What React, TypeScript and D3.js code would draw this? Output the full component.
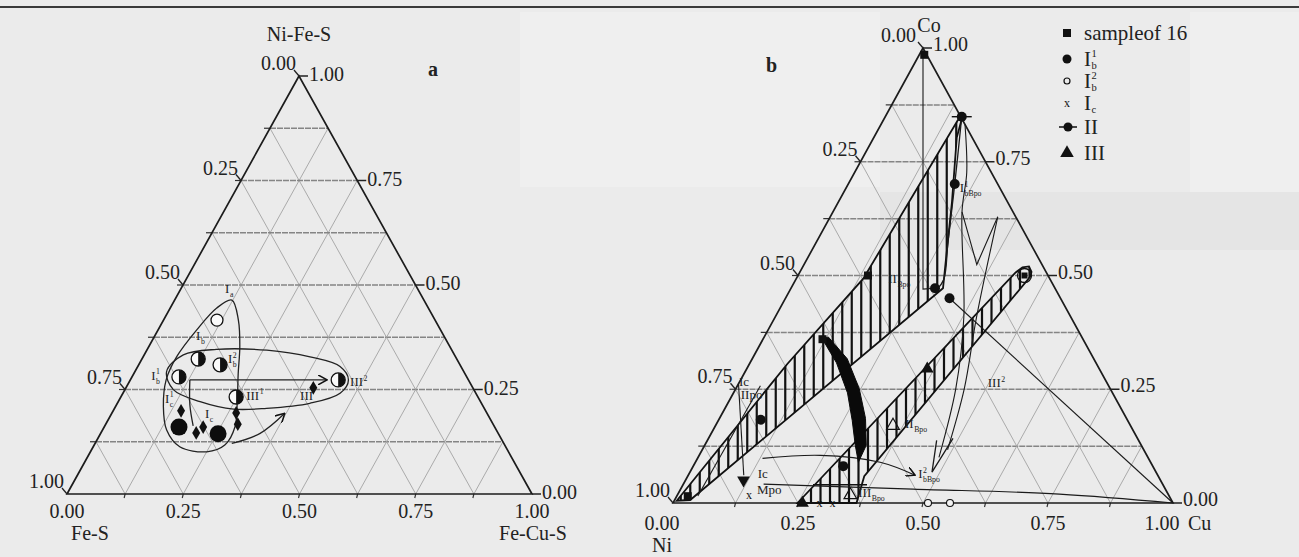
import React, { useEffect, useRef } from 'react';
import * as d3 from 'd3';

// every point is [top, right] as fractions of the triangle; left = 1 - top - right
type TP = [number, number];

const W = 1299, H = 557;

const gridSteps = d3.range(1, 8).map(k => k / 8);
const tickValues = [0, 0.25, 0.5, 0.75, 1];

// ---------- panel a (Ni-Fe-S top, Fe-S left, Fe-Cu-S right)
const aHalfDots: TP[] = [[0.323, 0.121], [0.309, 0.175], [0.280, 0.101], [0.232, 0.248], [0.273, 0.447]];
const aOpenDots: TP[] = [[0.416, 0.115]];
const aBigDots: TP[] = [[0.160, 0.161], [0.144, 0.253]];
const aDiamonds: TP[] = [[0.199, 0.146], [0.146, 0.205], [0.160, 0.213], [0.194, 0.267], [0.167, 0.284], [0.254, 0.403]];
const aLoopI: TP[] = [[0.464, 0.123], [0.416, 0.161], [0.352, 0.196], [0.289, 0.224], [0.225, 0.254], [0.161, 0.281],
  [0.117, 0.281], [0.101, 0.250], [0.113, 0.186], [0.153, 0.138], [0.209, 0.103], [0.273, 0.077], [0.328, 0.072],
  [0.392, 0.083], [0.445, 0.100]];
const aLoopIII: TP[] = [[0.293, 0.068], [0.333, 0.084], [0.346, 0.149], [0.344, 0.258], [0.328, 0.359], [0.305, 0.435],
  [0.273, 0.469], [0.241, 0.467], [0.217, 0.414], [0.205, 0.327], [0.203, 0.257], [0.221, 0.176], [0.249, 0.105]];
const aArrowRow: TP[] = [[0.273, 0.128], [0.273, 0.423]];
const aArrowDown: TP[] = [[0.273, 0.128], [0.213, 0.158], [0.163, 0.190]];
const aArrowCurve: TP[] = [[0.121, 0.294], [0.145, 0.343], [0.193, 0.372]];
const aLabels = [
  { main: 'I', sub: 'a', sup: '', at: [0.481, 0.100] as TP },
  { main: 'I', sub: 'b', sup: '', at: [0.368, 0.094] as TP },
  { main: 'I', sub: 'b', sup: '2', at: [0.313, 0.190] as TP },
  { main: 'I', sub: 'b', sup: '1', at: [0.273, 0.045] as TP },
  { main: 'I', sub: 'c', sup: '1', at: [0.218, 0.102] as TP },
  { main: 'I', sub: 'c', sup: '', at: [0.182, 0.206] as TP },
  { main: 'III', sub: '', sup: '1', at: [0.225, 0.273] as TP },
  { main: 'III', sub: '', sup: '', at: [0.225, 0.389] as TP },
  { main: 'III', sub: '', sup: '2', at: [0.258, 0.480] as TP },
];

// ---------- panel b (Co top, Ni left, Cu right)
const bSquares: TP[] = [[0.985, 0.01], [0.5, 0.14], [0.36, 0.119], [0.015, 0.022]];
const bDots: TP[] = [[0.701, 0.213], [0.472, 0.288], [0.45, 0.328], [0.081, 0.300], [0.183, 0.084]];
const bCrossDots: TP[] = [[0.849, 0.153]];
const bRingSquares: TP[] = [[0.5, 0.453]];
const bTriangles: TP[] = [[0.295, 0.361], [0.0, 0.259]];
const bDownTriangles: TP[] = [[0.05, 0.116]];
const bOpenTriangles: TP[] = [[0.17, 0.355], [0.0175, 0.346]];
const bOpenDots: TP[] = [[0.0, 0.51], [0.0, 0.554]];
const bCrosses: TP[] = [[0.0, 0.293], [0.0, 0.319], [0.0175, 0.143]];
const bUpperBand: TP[] = [[0.005, 0.005], [0.306, 0.076], [0.493, 0.134], [0.841, 0.149], [0.854, 0.153],
  [0.803, 0.166], [0.662, 0.227], [0.531, 0.280], [0.472, 0.304], [0.0066, 0.031]];
const bLowerBand: TP[] = [[0.0, 0.249], [0.5066, 0.432], [0.518, 0.440], [0.520, 0.452], [0.508, 0.463],
  [0.498, 0.466], [0.059, 0.353], [0.0, 0.367]];
const bBigArrow: TP[] = [[0.360, 0.119], [0.308, 0.173], [0.242, 0.228], [0.181, 0.268], [0.127, 0.301],
  [0.0895, 0.326], [0.127, 0.323], [0.186, 0.292], [0.251, 0.247], [0.317, 0.190], [0.365, 0.128]];
const bCoLine: TP[] = [[1.0, 0.0], [0.47, 0.265], [0.472, 0.288]];
const bTopCurve: TP[] = [[0.849, 0.153], [0.701, 0.213], [0.574, 0.263], [0.491, 0.296], [0.469, 0.293]];
const bLeftShaft: TP[] = [[0.832, 0.168], [0.727, 0.224], [0.64, 0.258], [0.4083, 0.3775], [0.251, 0.44], [0.1004, 0.4817]];
const bRightShaft: TP[] = [[0.629, 0.335], [0.408, 0.403], [0.251, 0.457], [0.117, 0.4906]];
const bZig: TP[] = [[0.64, 0.258], [0.524, 0.3456], [0.629, 0.335]];
const bShaftHead: TP[] = [[0.1376, 0.4585], [0.068, 0.484], [0.142, 0.489]];
const bCuLine: TP[] = [[0.0, 1.0], [0.45, 0.328]];
const bBottomLine: TP[] = [[0.0415, 0.1605], [0.0306, 0.4648], [0.0197, 0.763], [0.0, 1.0]];
const bBackArrow: TP[] = [[0.0611, 0.4536], [0.0895, 0.3695], [0.1048, 0.2424], [0.098, 0.130]];
const bIcLine: TP[] = [[0.262, 0.0], [0.061, 0.111]];
const bIIpoLine: TP[] = [[0.2576, 0.046], [0.0153, 0.042]];
const bLabels = [
  { main: 'I', sub: 'bBpo', sup: '1', at: [0.683, 0.232] as TP },
  { main: 'II', sub: 'Bpo', sup: '', at: [0.483, 0.189] as TP },
  { main: 'III', sub: '', sup: '2', at: [0.255, 0.502] as TP },
  { main: 'II', sub: 'Bpo', sup: '', at: [0.164, 0.382] as TP },
  { main: 'I', sub: 'bBpo', sup: '2', at: [0.0546, 0.463] as TP },
  { main: 'III', sub: 'Bpo', sup: '', at: [0.013, 0.364] as TP },
  { main: 'Ic', sub: '', sup: '', at: [0.258, 0.003] as TP },
  { main: 'IIpo', sub: '', sup: '', at: [0.229, 0.021] as TP },
  { main: 'Ic', sub: '', sup: '', at: [0.0546, 0.142] as TP },
  { main: 'Mpo', sub: '', sup: '', at: [0.0197, 0.158] as TP },
];

const legendNames = ['sampleof 16', 'I', 'I', 'I', 'II', 'III'];
const legendSub = ['', 'b', 'b', 'c', '', ''];
const legendSup = ['', '1', '2', '', '', ''];

function makeProj(top: number[], bl: number[], br: number[]) {
  const y = d3.scaleLinear().domain([0, 1]).range([bl[1], top[1]]);
  const xt = d3.scaleLinear().domain([0, 1]).range([bl[0], top[0]]);
  const xr = d3.scaleLinear().domain([0, 1]).range([0, br[0] - bl[0]]);
  return (p: TP): [number, number] => [xt(p[0]) + xr(p[1]), y(p[0])];
}

function label(g: any, x: number, y: number, main: string, sub: string, sup: string, size: number, small = 0.6, subDy = 0.28) {
  const t = g.append('text').attr('x', x).attr('y', y).attr('font-size', size).attr('fill', '#222').text(main);
  const w = (t.node() as SVGTextElement).getComputedTextLength();
  if (sup) g.append('text').attr('x', x + w + 0.5).attr('y', y - size * 0.42).attr('font-size', size * small).attr('fill', '#222').text(sup);
  if (sub) g.append('text').attr('x', x + w + 0.5).attr('y', y + size * subDy).attr('font-size', size * small).attr('fill', '#222').text(sub);
}

function drawFrame(g: any, proj: (p: TP) => [number, number], bottomDy: number, endShift: number, topShift: number, rightDy: number) {
  const seg = (a: TP, b: TP) => {
    const p = proj(a), q = proj(b);
    return `M${p[0]},${p[1]}L${q[0]},${q[1]}`;
  };
  gridSteps.forEach(k => {
    g.append('path').attr('d', seg([0, k], [1 - k, k])).attr('stroke', '#a3a3a3').attr('stroke-width', 0.9).attr('fill', 'none');
    g.append('path').attr('d', seg([0, 1 - k], [1 - k, 0])).attr('stroke', '#a3a3a3').attr('stroke-width', 0.9).attr('fill', 'none');
    g.append('path').attr('d', seg([k, 0], [k, 1 - k])).attr('stroke', '#858585').attr('stroke-width', 1.5)
      .attr('stroke-dasharray', '6,1').attr('fill', 'none');
    const l = proj([k, 0]);
    g.append('line').attr('x1', l[0] - 6).attr('x2', l[0]).attr('y1', l[1]).attr('y2', l[1]).attr('stroke', '#333').attr('stroke-width', 1.2);
    const b = proj([0, k]);
    g.append('line').attr('x1', b[0]).attr('x2', b[0] - 1).attr('y1', b[1]).attr('y2', b[1] + 4).attr('stroke', '#333').attr('stroke-width', 1.2);
  });
  const tri = [proj([1, 0]), proj([0, 0]), proj([0, 1])];
  g.append('path').attr('d', 'M' + tri.map(p => p.join(',')).join('L') + 'Z')
    .attr('fill', 'none').attr('stroke', '#1c1c1c').attr('stroke-width', 1.7);

  tickValues.forEach((v, i) => {
    const l = proj([v, 0]);
    g.append('line').attr('x1', l[0]).attr('y1', l[1]).attr('x2', l[0] - 5).attr('y2', l[1] - 6).attr('stroke', '#222').attr('stroke-width', 1.3);
    g.append('text').attr('x', l[0] - 3 + (v === 1 ? topShift : 0)).attr('y', l[1] - 6).attr('text-anchor', 'end').attr('font-size', 20).attr('fill', '#222')
      .text((1 - v).toFixed(2));
    const r = proj([v, 1 - v]);
    g.append('line').attr('x1', r[0]).attr('y1', r[1]).attr('x2', r[0] + 9).attr('y2', r[1]).attr('stroke', '#222').attr('stroke-width', 1.5);
    g.append('text').attr('x', r[0] + 10).attr('y', r[1] + rightDy).attr('font-size', 20).attr('fill', '#222').text(v.toFixed(2));
    const b = proj([0, v]);
    const shift = i === 0 || i === tickValues.length - 1 ? endShift : 0;
    g.append('text').attr('x', b[0] + shift).attr('y', b[1] + bottomDy).attr('text-anchor', 'middle').attr('font-size', 20).attr('fill', '#222')
      .text(v.toFixed(2));
  });
}

function halfDot(g: any, p: [number, number], r: number) {
  g.append('circle').attr('cx', p[0]).attr('cy', p[1]).attr('r', r).attr('fill', '#fafafa').attr('stroke', '#111').attr('stroke-width', 1.3);
  g.append('path').attr('d', `M${p[0]},${p[1] - r}A${r},${r} 0 0 1 ${p[0]},${p[1] + r}Z`).attr('fill', '#111');
}

function hatch(g: any, id: string, pts: [number, number][], step: number) {
  const xs = pts.map(p => p[0]);
  const poly = 'M' + pts.map(p => p.join(',')).join('L') + 'Z';
  g.append('clipPath').attr('id', id).append('path').attr('d', poly);
  const hg = g.append('g').attr('clip-path', `url(#${id})`);
  const ys = pts.map(p => p[1]);
  const y0 = d3.min(ys) as number, y1 = d3.max(ys) as number;
  d3.range(d3.min(xs) as number + 4, d3.max(xs) as number, step).forEach(x => {
    hg.append('line').attr('x1', x).attr('x2', x).attr('y1', y0).attr('y2', y1).attr('stroke', '#111').attr('stroke-width', 2.2);
  });
  g.append('path').attr('d', poly).attr('fill', 'none').attr('stroke', '#111').attr('stroke-width', 1.8);
}

export default function App() {
  const ref = useRef<SVGSVGElement>(null);

  useEffect(() => {
    const svg = d3.select(ref.current);
    svg.selectAll('*').remove();

    const defs = svg.append('defs');
    defs.append('marker').attr('id', 'arr').attr('viewBox', '0 0 10 10').attr('refX', 9).attr('refY', 5)
      .attr('markerWidth', 10).attr('markerHeight', 10).attr('markerUnits', 'userSpaceOnUse').attr('orient', 'auto-start-reverse')
      .append('path').attr('d', 'M0,0L9,5L0,10').attr('fill', 'none').attr('stroke', '#111').attr('stroke-width', 1.5);

    // paper
    svg.append('rect').attr('width', W).attr('height', H).attr('fill', '#ebebeb');
    svg.append('rect').attr('x', 520).attr('y', 12).attr('width', 360).attr('height', 175).attr('fill', '#efefef');
    svg.append('rect').attr('x', 1190).attr('y', 12).attr('width', 109).attr('height', 200).attr('fill', '#efefef');
    svg.append('rect').attr('x', 880).attr('y', 192).attr('width', 419).attr('height', 58).attr('fill', '#e5e5e5');
    svg.append('line').attr('x1', 0).attr('x2', W).attr('y1', 7).attr('y2', 7).attr('stroke', '#3a3a3a').attr('stroke-width', 2);

    const root = svg.append('g').attr('font-family', '"Liberation Serif", "DejaVu Serif", serif');

    // ================= panel a
    const pa = makeProj([299, 76], [67, 494], [532, 494]);
    const ga = root.append('g');
    drawFrame(ga, pa, 24, 0, 0, 5);
    ga.append('text').attr('x', 299).attr('y', 41).attr('text-anchor', 'middle').attr('font-size', 20).attr('fill', '#222').text('Ni-Fe-S');
    ga.append('text').attr('x', 90).attr('y', 540).attr('text-anchor', 'middle').attr('font-size', 20).attr('fill', '#222').text('Fe-S');
    ga.append('text').attr('x', 533).attr('y', 540).attr('text-anchor', 'middle').attr('font-size', 20).attr('fill', '#222').text('Fe-Cu-S');
    ga.append('text').attr('x', 428).attr('y', 76).attr('font-size', 20).attr('font-weight', 'bold').attr('fill', '#222').text('a');

    const lineA = d3.line<TP>().x(d => pa(d)[0]).y(d => pa(d)[1]);
    ga.append('path').attr('d', lineA.curve(d3.curveCatmullRomClosed)(aLoopI)).attr('fill', 'none').attr('stroke', '#222').attr('stroke-width', 1.3);
    ga.append('path').attr('d', lineA.curve(d3.curveCatmullRomClosed)(aLoopIII)).attr('fill', 'none').attr('stroke', '#222').attr('stroke-width', 1.3);
    ga.append('path').attr('d', lineA.curve(d3.curveLinear)(aArrowRow)).attr('fill', 'none').attr('stroke', '#222').attr('stroke-width', 1.4).attr('marker-end', 'url(#arr)');
    ga.append('path').attr('d', lineA.curve(d3.curveCatmullRom)(aArrowDown)).attr('fill', 'none').attr('stroke', '#222').attr('stroke-width', 1.3);
    ga.append('path').attr('d', lineA.curve(d3.curveCatmullRom)(aArrowCurve)).attr('fill', 'none').attr('stroke', '#222').attr('stroke-width', 1.3).attr('marker-end', 'url(#arr)');

    aOpenDots.forEach(d => {
      const p = pa(d);
      ga.append('circle').attr('cx', p[0]).attr('cy', p[1]).attr('r', 6).attr('fill', '#fafafa').attr('stroke', '#111').attr('stroke-width', 1.3);
    });
    aHalfDots.forEach(d => halfDot(ga, pa(d), 7));
    aBigDots.forEach(d => {
      const p = pa(d);
      ga.append('circle').attr('cx', p[0]).attr('cy', p[1]).attr('r', 8.5).attr('fill', '#0d0d0d');
    });
    const diamond = d3.symbol().type(d3.symbolDiamond).size(55);
    aDiamonds.forEach(d => {
      const p = pa(d);
      ga.append('path').attr('d', diamond()).attr('transform', `translate(${p[0]},${p[1]})`).attr('fill', '#111');
    });
    aLabels.forEach(l => {
      const p = pa(l.at);
      label(ga, p[0], p[1], l.main, l.sub, l.sup, 13);
    });

    // ================= panel b
    const pb = makeProj([923, 48], [673, 503], [1173, 503]);
    const gb = root.append('g');
    drawFrame(gb, pb, 27, -11, -4, 3);
    gb.append('text').attr('x', 929).attr('y', 32).attr('text-anchor', 'middle').attr('font-size', 20).attr('fill', '#222').text('Co');
    gb.append('text').attr('x', 662).attr('y', 552).attr('text-anchor', 'middle').attr('font-size', 20).attr('fill', '#222').text('Ni');
    gb.append('text').attr('x', 1188).attr('y', 530).attr('font-size', 20).attr('fill', '#222').text('Cu');
    gb.append('text').attr('x', 766).attr('y', 72).attr('font-size', 20).attr('font-weight', 'bold').attr('fill', '#222').text('b');

    hatch(gb, 'bandUp', bUpperBand.map(pb), 9.5);
    hatch(gb, 'bandLow', bLowerBand.map(pb), 9.5);
    const lo = pb([0.04, 0.26]), lo2 = pb([0.04, 0.36]);
    gb.append('line').attr('x1', lo[0]).attr('x2', lo2[0] + 4).attr('y1', lo[1]).attr('y2', lo[1]).attr('stroke', '#111').attr('stroke-width', 1.5);

    const lineB = d3.line<TP>().x(d => pb(d)[0]).y(d => pb(d)[1]);
    const thin = (pts: TP[], curve: any, w: number, end?: boolean, start?: boolean) => {
      const path = gb.append('path').attr('d', lineB.curve(curve)(pts)).attr('fill', 'none').attr('stroke', '#1a1a1a').attr('stroke-width', w);
      if (end) path.attr('marker-end', 'url(#arr)');
      if (start) path.attr('marker-start', 'url(#arr)');
    };
    thin(bCoLine, d3.curveLinear, 1.1);
    thin(bTopCurve, d3.curveCatmullRom, 1.3);
    thin(bLeftShaft, d3.curveCatmullRom, 1.1);
    thin(bRightShaft, d3.curveCatmullRom, 1.1);
    thin(bZig, d3.curveLinear, 1.1);
    thin(bShaftHead, d3.curveLinear, 1.3);
    thin(bCuLine, d3.curveLinear, 1.1);
    thin(bBottomLine, d3.curveCatmullRom, 1.2);
    thin(bBackArrow, d3.curveCatmullRom, 1.2, false, true);
    thin(bIcLine, d3.curveLinear, 1.1);
    thin(bIIpoLine, d3.curveLinear, 1.1);

    gb.append('path').attr('d', lineB.curve(d3.curveLinearClosed)(bBigArrow)).attr('fill', '#0a0a0a').attr('stroke', '#0a0a0a').attr('stroke-width', 1);

    const sq = d3.symbol().type(d3.symbolSquare).size(64);
    const triUp = d3.symbol().type(d3.symbolTriangle).size(70);
    bSquares.forEach(d => {
      const p = pb(d);
      gb.append('path').attr('d', sq()).attr('transform', `translate(${p[0]},${p[1]})`).attr('fill', '#111');
    });
    bDots.forEach(d => {
      const p = pb(d);
      gb.append('circle').attr('cx', p[0]).attr('cy', p[1]).attr('r', 5).attr('fill', '#111');
    });
    bCrossDots.forEach(d => {
      const p = pb(d);
      gb.append('circle').attr('cx', p[0]).attr('cy', p[1]).attr('r', 5).attr('fill', '#111');
      gb.append('line').attr('x1', p[0] - 10).attr('x2', p[0] + 10).attr('y1', p[1]).attr('y2', p[1]).attr('stroke', '#111').attr('stroke-width', 1.4);
    });
    bRingSquares.forEach(d => {
      const p = pb(d);
      gb.append('circle').attr('cx', p[0]).attr('cy', p[1]).attr('r', 7).attr('fill', 'none').attr('stroke', '#111').attr('stroke-width', 1.3);
      gb.append('path').attr('d', d3.symbol().type(d3.symbolSquare).size(36)()).attr('transform', `translate(${p[0]},${p[1]})`).attr('fill', '#111');
    });
    bTriangles.forEach(d => {
      const p = pb(d);
      gb.append('path').attr('d', triUp()).attr('transform', `translate(${p[0]},${p[1]})`).attr('fill', '#111');
    });
    bDownTriangles.forEach(d => {
      const p = pb(d);
      gb.append('path').attr('d', triUp()).attr('transform', `translate(${p[0]},${p[1]}) rotate(180)`).attr('fill', '#111');
    });
    bOpenTriangles.forEach(d => {
      const p = pb(d);
      gb.append('path').attr('d', triUp()).attr('transform', `translate(${p[0]},${p[1]})`).attr('fill', 'none').attr('stroke', '#111').attr('stroke-width', 1.2);
    });
    bOpenDots.forEach(d => {
      const p = pb(d);
      gb.append('circle').attr('cx', p[0]).attr('cy', p[1]).attr('r', 3.5).attr('fill', '#f3f3f3').attr('stroke', '#111').attr('stroke-width', 1.1);
    });
    bCrosses.forEach(d => {
      const p = pb(d);
      gb.append('text').attr('x', p[0]).attr('y', p[1] + 4).attr('text-anchor', 'middle').attr('font-size', 12).attr('fill', '#111').text('x');
    });
    bLabels.forEach(l => {
      const p = pb(l.at);
      label(gb, p[0], p[1], l.main, l.sub, l.sup, 13);
    });

    // legend
    const lg = root.append('g');
    const rowY = [33, 59, 81, 103, 127, 153];
    legendNames.forEach((name, i) => {
      const y = rowY[i];
      if (i === 0) lg.append('rect').attr('x', 1063).attr('y', y - 4).attr('width', 8).attr('height', 8).attr('fill', '#111');
      if (i === 1) lg.append('circle').attr('cx', 1067).attr('cy', y).attr('r', 4.5).attr('fill', '#111');
      if (i === 2) lg.append('circle').attr('cx', 1067).attr('cy', y).attr('r', 3).attr('fill', 'none').attr('stroke', '#111').attr('stroke-width', 1.2);
      if (i === 3) lg.append('text').attr('x', 1067).attr('y', y + 4).attr('text-anchor', 'middle').attr('font-size', 12).attr('fill', '#111').text('x');
      if (i === 4) {
        lg.append('line').attr('x1', 1059).attr('x2', 1077).attr('y1', y).attr('y2', y).attr('stroke', '#111').attr('stroke-width', 1.5);
        lg.append('circle').attr('cx', 1068).attr('cy', y).attr('r', 4.5).attr('fill', '#111');
      }
      if (i === 5) lg.append('path').attr('d', d3.symbol().type(d3.symbolTriangle).size(80)()).attr('transform', `translate(1067,${y})`).attr('fill', '#111');
      label(lg, 1084, y + 7, name, legendSub[i], legendSup[i], 21, 0.5, 0.15);
    });
  }, []);

  return <svg ref={ref} width={W} height={H} style={{ position: 'absolute', left: 0, top: 0 }} />;
}
